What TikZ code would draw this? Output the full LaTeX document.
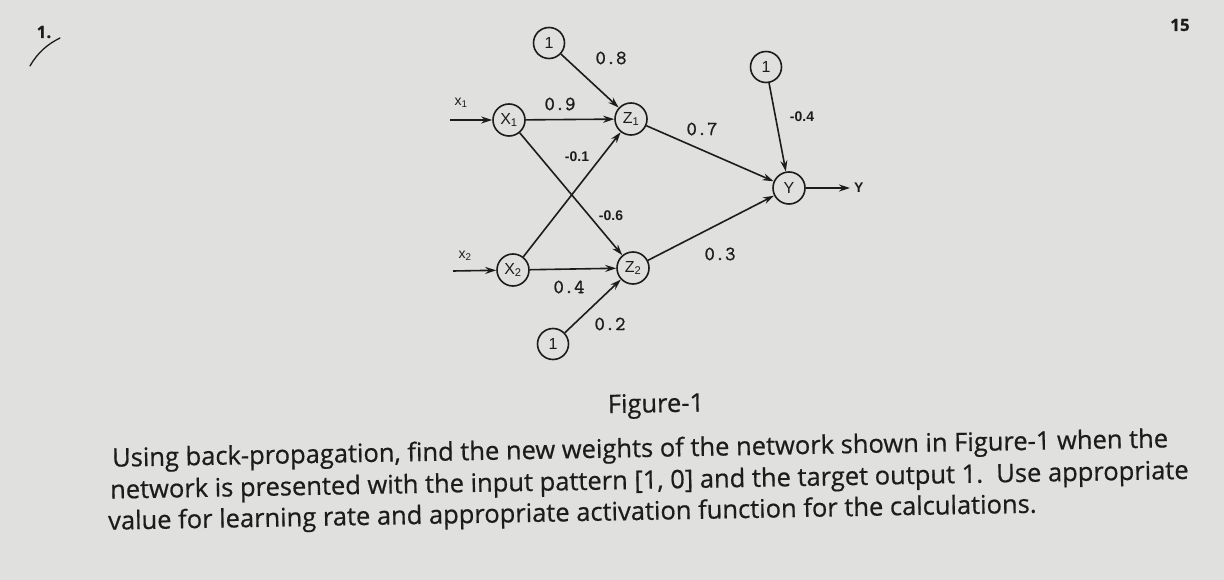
\documentclass[tikz,border=0pt]{standalone}
\usepackage{fontspec}
\setmainfont{Open Sans}[FakeBold=0.6]
\newfontfamily\lab{Liberation Sans}
\newfontfamily\wt{Latin Modern Mono}[FakeBold=1.2]
\usetikzlibrary{arrows.meta}
\definecolor{paper}{RGB}{224,225,222}
\definecolor{ink}{RGB}{28,28,28}
\tikzset{
  neuron/.style={circle,draw=ink,line width=1.6pt,minimum size=32pt,inner sep=0pt,font=\lab\fontsize{16}{16}\selectfont,text=ink},
  biasn/.style={neuron,minimum size=31pt},
  conn/.style={draw=ink,line width=1.6pt,-{Stealth[length=11pt,width=7pt]}},
  wlab/.style={font=\wt\fontsize{20}{20}\selectfont,text=ink,inner sep=1pt},
  slab/.style={font=\lab\bfseries\fontsize{14}{14}\selectfont,text=ink,inner sep=1pt},
  inlab/.style={font=\lab\fontsize{14}{14}\selectfont,text=ink,inner sep=0pt},
  body/.style={font=\fontsize{25.5}{25.5}\selectfont,text=ink,anchor=west,inner sep=0pt,rotate=1.05},
}
\begin{document}
\begin{tikzpicture}[x=1pt,y=-1pt]
\fill[paper] (0,0) rectangle (1224,580);
\useasboundingbox (0,0) rectangle (1224,580);
% nodes
\node[biasn] (b1) at (549,43) {1};
\node[neuron] (x1) at (509,120) {X\textsubscript{1}};
\node[neuron] (z1) at (631,119) {Z\textsubscript{1}};
\node[neuron] (x2) at (513,270) {X\textsubscript{2}};
\node[neuron] (z2) at (633,268) {Z\textsubscript{2}};
\node[biasn] (b2) at (553,344) {1};
\node[biasn] (b3) at (766,67) {1};
\node[neuron] (y) at (789,188) {Y};
\coordinate (in1) at (450,120);
\coordinate (in2) at (453,271);
\coordinate (out) at (850,188);
% connectors
\draw[conn] (in1) -- (x1);
\draw[conn] (in2) -- (x2);
\draw[conn] (b1) -- (z1);
\draw[conn] (x1) -- (z1);
\draw[conn] (x1) -- (z2);
\draw[conn] (x2) -- (z1);
\draw[conn] (x2) -- (z2);
\draw[conn] (b2) -- (z2);
\draw[conn] (z1) -- (y);
\draw[conn] (z2) -- (y);
\draw[conn] (b3) -- (y);
\draw[conn] (y) -- (out);
% labels
\node[inlab] (lx1) at (461,103) {x\textsubscript{1}};
\node[inlab] (lx2) at (465,256) {x\textsubscript{2}};
\node[slab,anchor=west] (ly) at (853,188) {Y};
\node[wlab] (w08) at (611,58) {0.8};
\node[wlab] (w09) at (560,104) {0.9};
\node[slab] (wm01) at (577,157) {-0.1};
\node[slab] (wm06) at (611,216) {-0.6};
\node[wlab] (w04) at (569,287) {0.4};
\node[wlab] (w02) at (610,324) {0.2};
\node[wlab] (w07) at (702,129) {0.7};
\node[wlab] (w03) at (720,254) {0.3};
\node[slab] (wm04) at (802,117) {-0.4};
% page text
\node[font=\bfseries\fontsize{17}{17}\selectfont,text=ink] (one) at (44,32) {1.};
\draw[ink,line width=1.3pt,line cap=round] (30,66) .. controls (38,52) and (48,44) .. (60,38);
\node[font=\bfseries\fontsize{17}{17}\selectfont,text=ink] (pg) at (1180,25) {15};
\node[font=\fontsize{25.5}{25.5}\selectfont,text=ink,rotate=1.05] (fig) at (656,406) {Figure-1};
\node[body] (l1) at (112,460) {Using back-propagation, find the new weights of the network shown in Figure-1 when the};
\node[body] (l2) at (110,492) {network is presented with the input pattern [1, 0] and the target output 1.\ \ Use appropriate};
\node[body] (l3) at (108,523) {value for learning rate and appropriate activation function for the calculations.};
\end{tikzpicture}
\end{document}
